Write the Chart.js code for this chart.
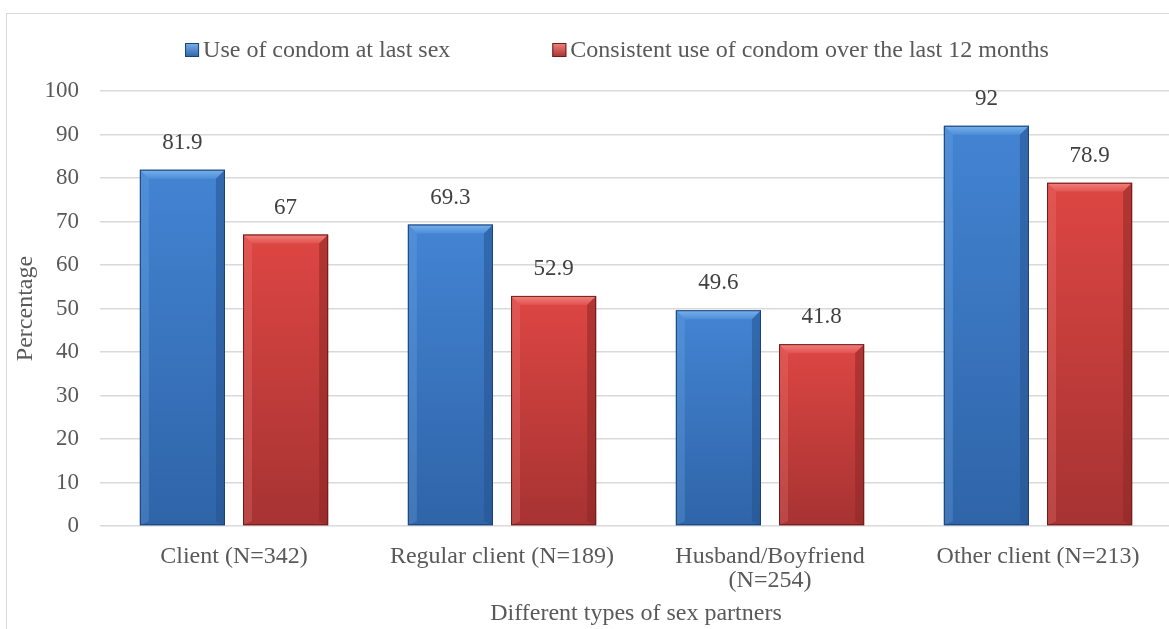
<!DOCTYPE html>
<html>
<head>
<meta charset="utf-8">
<script src="https://cdn.jsdelivr.net/npm/chart.js@4"></script>
<style>
  html, body { margin: 0; padding: 0; background: #fff; overflow: hidden; }
  #box {
    position: absolute; left: 6px; top: 13px;
    width: 1200px; height: 650px;
    border: 1.5px solid #d9d9d9; background: #fff;
  }
  #chart { position: absolute; left: 1px; top: 1px; }
</style>
</head>
<body>
<div id="box"><canvas id="chart" width="1180" height="625"></canvas></div>
<script>
// data
const categories = ['Client (N=342)', 'Regular client (N=189)', ['Husband/Boyfriend', '(N=254)'], 'Other client (N=213)'];
const seriesNames = ['Use of condom at last sex', 'Consistent use of condom over the last 12 months'];
const lastSex = [81.9, 69.3, 49.6, 92];
const consistent12m = [67, 52.9, 41.8, 78.9];
const yTicks = [0, 10, 20, 30, 40, 50, 60, 70, 80, 90, 100];

const FONT = '"Liberation Serif", "Times New Roman", serif';
const TEXT = '#595959';

// bar looks (blue, red)
const looks = [
  { top: '#4384d3', bottom: '#2f64a8', bevel: '#79b2ec', bevel2: '#4d8ed8', side: '#27548f', edge: '#1d4175' },
  { top: '#dd4643', bottom: '#a63332', bevel: '#f3827e', bevel2: '#e0524f', side: '#8e2827', edge: '#6a1d1c' }
];

function barFill(ctx, i) {
  const chart = ctx.chart;
  const y = chart.scales.y;
  if (!y || ctx.parsed == null) return looks[i].top;
  const top = y.getPixelForValue(ctx.parsed.y);
  const base = y.getPixelForValue(0);
  if (!isFinite(top) || !isFinite(base) || base - top < 1) return looks[i].top;
  const g = chart.ctx.createLinearGradient(0, top, 0, base);
  g.addColorStop(0, looks[i].top);
  g.addColorStop(1, looks[i].bottom);
  return g;
}

// bevel on top of the bars drawn by chart.js
const bevelPlugin = {
  id: 'bevel',
  afterDatasetsDraw(chart) {
    const c = chart.ctx;
    chart.data.datasets.forEach((ds, i) => {
      const lk = looks[i];
      chart.getDatasetMeta(i).data.forEach(bar => {
        const p = bar.getProps(['x', 'y', 'base', 'width'], true);
        const l = p.x - p.width / 2, r = p.x + p.width / 2, t = p.y, b = p.base;
        const s = 9;
        c.save();
        // top bevel
        const g = c.createLinearGradient(0, t, 0, t + s);
        g.addColorStop(0, lk.bevel);
        g.addColorStop(1, lk.bevel2);
        c.fillStyle = g;
        c.beginPath();
        c.moveTo(l, t); c.lineTo(r, t); c.lineTo(r - s, t + s); c.lineTo(l + s, t + s); c.closePath();
        c.fill();
        // left side, a little lighter
        c.globalAlpha = 0.25;
        c.fillStyle = lk.bevel;
        c.beginPath();
        c.moveTo(l, t); c.lineTo(l + s, t + s); c.lineTo(l + s, b - 4); c.lineTo(l, b); c.closePath();
        c.fill();
        // right side, darker
        c.globalAlpha = 0.55;
        c.fillStyle = lk.side;
        c.beginPath();
        c.moveTo(r, t); c.lineTo(r - s, t + s); c.lineTo(r - s, b - 4); c.lineTo(r, b); c.closePath();
        c.fill();
        // outline
        c.globalAlpha = 1;
        c.strokeStyle = lk.edge;
        c.lineWidth = 1;
        c.strokeRect(l + 0.5, t + 0.5, p.width - 1, b - t - 1);
        c.restore();
      });
    });
  }
};

// value labels above bars
const valueLabels = {
  id: 'valueLabels',
  afterDatasetsDraw(chart) {
    const c = chart.ctx;
    c.save();
    c.font = '23px ' + FONT;
    c.fillStyle = '#404040';
    c.textAlign = 'center';
    c.textBaseline = 'middle';
    chart.data.datasets.forEach((ds, i) => {
      chart.getDatasetMeta(i).data.forEach((bar, j) => {
        c.fillText(String(ds.data[j]), bar.x, bar.y - 27);
      });
    });
    c.restore();
  }
};

// legend drawn at the top
const topLegend = {
  id: 'topLegend',
  afterDraw(chart) {
    const c = chart.ctx;
    c.save();
    c.font = '24px ' + FONT;
    const box = 14, gapText = 4, gapItem = 102;
    const widths = seriesNames.map(n => box + gapText + c.measureText(n).width);
    const total = widths.reduce((a, b) => a + b, 0) + gapItem * (widths.length - 1);
    let x = 609 - total / 2;
    const cy = 35;
    seriesNames.forEach((name, i) => {
      const lk = looks[i];
      const g = c.createLinearGradient(0, cy - 7, 0, cy + 7);
      g.addColorStop(0, lk.bevel);
      g.addColorStop(1, lk.bottom);
      c.fillStyle = g;
      c.fillRect(x, cy - 7, box, box);
      c.strokeStyle = lk.edge;
      c.lineWidth = 1;
      c.strokeRect(x + 0.5, cy - 6.5, box - 1, box - 1);
      c.fillStyle = TEXT;
      c.textBaseline = 'middle';
      c.fillText(name, x + box + gapText, cy + 1);
      x += widths[i] + gapItem;
    });
    c.restore();
  }
};

new Chart(document.getElementById('chart'), {
  type: 'bar',
  data: {
    labels: categories,
    datasets: [
      { label: seriesNames[0], data: lastSex, backgroundColor: ctx => barFill(ctx, 0), borderWidth: 0 },
      { label: seriesNames[1], data: consistent12m, backgroundColor: ctx => barFill(ctx, 1), borderWidth: 0 }
    ]
  },
  options: {
    responsive: false,
    animation: false,
    devicePixelRatio: 1,
    categoryPercentage: 0.77,
    barPercentage: 0.825,
    layout: { padding: { top: 76, right: 16, left: 0, bottom: 14 } },
    plugins: {
      legend: { display: false },
      tooltip: { enabled: false }
    },
    scales: {
      x: {
        afterFit(scale) { scale.height = 100; },
        grid: { display: false },
        border: { display: false },
        ticks: {
          color: TEXT,
          font: { family: FONT, size: 24, lineHeight: 1.0 },
          padding: 11,
          maxRotation: 0,
          autoSkip: false
        },
        title: {
          display: true,
          text: 'Different types of sex partners',
          color: TEXT,
          font: { family: FONT, size: 24, lineHeight: 1.0 },
          padding: { top: 0, bottom: 0 }
        }
      },
      y: {
        min: 0,
        max: 100,
        afterFit(scale) { scale.width = 92; },
        afterBuildTicks(scale) { scale.ticks = yTicks.map(v => ({ value: v })); },
        grid: { color: '#d9d9d9', lineWidth: 1.5, drawTicks: false },
        border: { display: false },
        ticks: {
          color: TEXT,
          font: { family: FONT, size: 23 },
          padding: 21
        },
        title: {
          display: true,
          text: 'Percentage',
          color: TEXT,
          font: { family: FONT, size: 24, lineHeight: 1.2 },
          padding: { top: 3, bottom: 0 }
        }
      }
    }
  },
  plugins: [bevelPlugin, valueLabels, topLegend]
});
</script>
</body>
</html>
